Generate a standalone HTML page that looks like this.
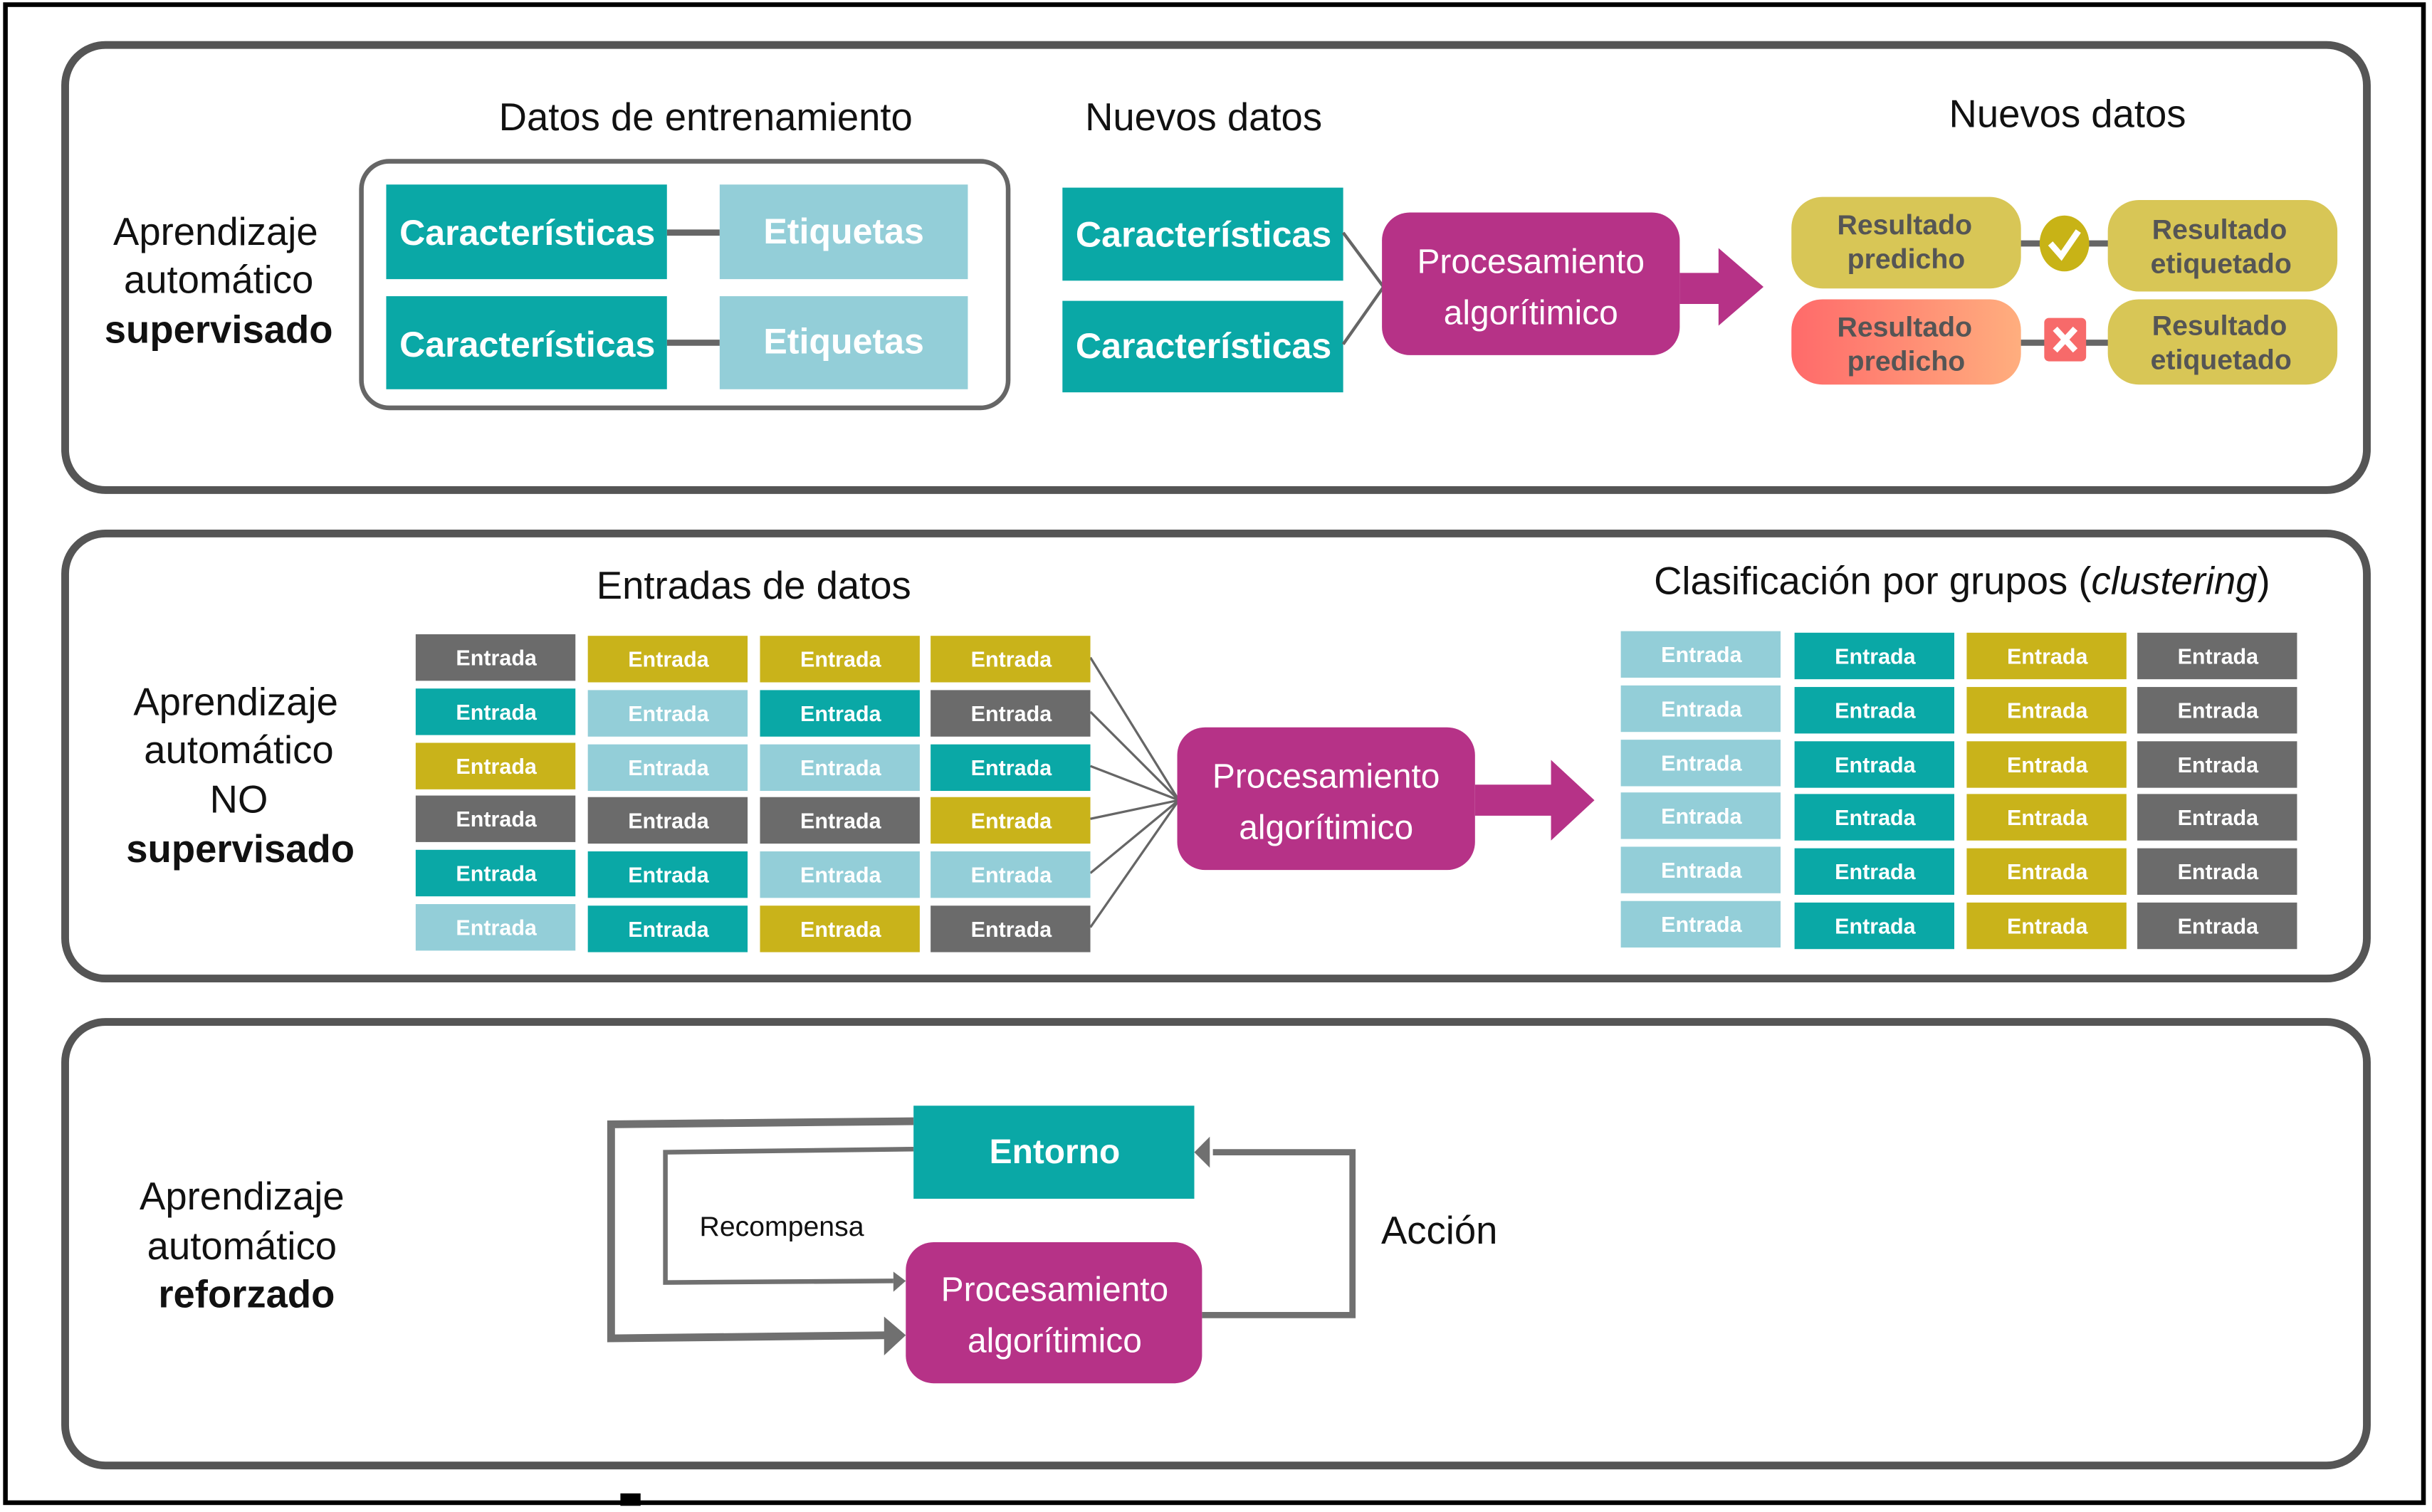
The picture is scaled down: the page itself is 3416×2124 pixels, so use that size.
<!DOCTYPE html>
<html><head><meta charset="utf-8"><style>
html,body{margin:0;padding:0;background:#fff;}
svg{display:block;}
text{font-family:"Liberation Sans",sans-serif;}
</style></head><body>
<svg width="3416" height="2124" viewBox="0 0 1568 975" preserveAspectRatio="none" xmlns="http://www.w3.org/2000/svg">
<defs>
<linearGradient id="rg" x1="0" x2="1" y1="0" y2="0"><stop offset="0" stop-color="#ff6a6a"/><stop offset="1" stop-color="#ffae7e"/></linearGradient>
</defs>
<rect x="3.5" y="3" width="1559" height="966" fill="#fff" stroke="#000" stroke-width="3"/>
<rect x="400" y="963" width="13" height="8" fill="#000"/>

<!-- Panels -->
<rect x="42" y="29" width="1484" height="287" rx="26" fill="none" stroke="#555" stroke-width="5"/>
<rect x="42" y="344" width="1484" height="287" rx="26" fill="none" stroke="#555" stroke-width="5"/>
<rect x="42" y="659" width="1484" height="286" rx="26" fill="none" stroke="#555" stroke-width="5"/>

<!-- Panel 1 -->
<g font-size="25" text-anchor="middle" fill="#111">
<text x="139" y="158">Aprendizaje</text>
<text x="141" y="189">automático</text>
<text x="141" y="221" font-weight="bold">supervisado</text>
<text x="455" y="84">Datos de entrenamiento</text>
<text x="776" y="84">Nuevos datos</text>
<text x="1333" y="82">Nuevos datos</text>
</g>
<rect x="233" y="104" width="417" height="159" rx="18" fill="none" stroke="#666" stroke-width="3"/>
<line x1="430" y1="150" x2="464" y2="150" stroke="#666" stroke-width="4"/>
<line x1="430" y1="221" x2="464" y2="221" stroke="#666" stroke-width="4"/>
<g font-size="23" font-weight="bold" fill="#fff" text-anchor="middle">
<rect x="249" y="119" width="181" height="61" fill="#0aa8a6"/><text x="340" y="158">Características</text>
<rect x="249" y="191" width="181" height="60" fill="#0aa8a6"/><text x="340" y="230">Características</text>
<rect x="464" y="119" width="160" height="61" fill="#93ced8"/><text x="544" y="157">Etiquetas</text>
<rect x="464" y="191" width="160" height="60" fill="#93ced8"/><text x="544" y="228">Etiquetas</text>
<rect x="685" y="121" width="181" height="60" fill="#0aa8a6"/><text x="776" y="159">Características</text>
<rect x="685" y="194" width="181" height="59" fill="#0aa8a6"/><text x="776" y="231">Características</text>
</g>
<polyline points="866,150 892,185 866,222" fill="none" stroke="#666" stroke-width="2"/>
<rect x="891" y="137" width="192" height="92" rx="18" fill="#b63287"/>
<g font-size="22" fill="#fff" text-anchor="middle"><text x="987" y="176">Procesamiento</text><text x="987" y="209">algorítimico</text></g>
<polygon points="1083,176 1108,176 1108,160 1137,185 1108,210 1108,196 1083,196" fill="#b63287"/>
<line x1="1300" y1="157" x2="1362" y2="157" stroke="#666" stroke-width="4"/>
<line x1="1300" y1="221" x2="1362" y2="221" stroke="#666" stroke-width="4"/>
<rect x="1155" y="127" width="148" height="59" rx="20" fill="#d8c656"/>
<rect x="1359" y="129" width="148" height="59" rx="20" fill="#d8c656"/>
<rect x="1155" y="193" width="148" height="55" rx="20" fill="url(#rg)"/>
<rect x="1359" y="193" width="148" height="55" rx="20" fill="#d8c656"/>
<ellipse cx="1331" cy="157" rx="16" ry="18" fill="#c8b316"/>
<polyline points="1322,157 1329,165 1340,149" fill="none" stroke="#fff" stroke-width="4"/>
<rect x="1318" y="205" width="27" height="28" rx="3" fill="#f76a6a"/>
<g stroke="#fff" stroke-width="4"><line x1="1325" y1="212" x2="1338" y2="226"/><line x1="1338" y1="212" x2="1325" y2="226"/></g>
<g font-size="18" font-weight="bold" fill="#555" text-anchor="middle">
<text x="1228" y="151">Resultado</text><text x="1229" y="173">predicho</text>
<text x="1431" y="154">Resultado</text><text x="1432" y="176">etiquetado</text>
<text x="1228" y="217">Resultado</text><text x="1229" y="239">predicho</text>
<text x="1431" y="216">Resultado</text><text x="1432" y="238">etiquetado</text>
</g>

<!-- Panel 2 -->
<g font-size="25" text-anchor="middle" fill="#111">
<text x="152" y="461">Aprendizaje</text>
<text x="154" y="492">automático</text>
<text x="154" y="524">NO</text>
<text x="155" y="556" font-weight="bold">supervisado</text>
<text x="486" y="386">Entradas de datos</text>
<text x="1265" y="383">Clasificación por grupos (<tspan font-style="italic">clustering</tspan>)</text>
</g>
<g stroke="#666" stroke-width="1.5">
<line x1="703" y1="424" x2="760" y2="516"/><line x1="703" y1="459" x2="760" y2="516"/>
<line x1="703" y1="494" x2="760" y2="516"/><line x1="703" y1="528" x2="760" y2="516"/>
<line x1="703" y1="563" x2="760" y2="516"/><line x1="703" y1="598" x2="760" y2="516"/>
</g>
<g font-size="14" font-weight="bold" fill="#fff" text-anchor="middle">
<!-- left grid: G=#6b6b6b Y=#c9b31a T=#0aa8a6 L=#93ced8 -->
<rect x="268" y="409" width="103" height="30" fill="#6b6b6b"/><text x="320" y="429">Entrada</text>
<rect x="379" y="410" width="103" height="30" fill="#c9b31a"/><text x="431" y="430">Entrada</text>
<rect x="490" y="410" width="103" height="30" fill="#c9b31a"/><text x="542" y="430">Entrada</text>
<rect x="600" y="410" width="103" height="30" fill="#c9b31a"/><text x="652" y="430">Entrada</text>

<rect x="268" y="444" width="103" height="30" fill="#0aa8a6"/><text x="320" y="464">Entrada</text>
<rect x="379" y="445" width="103" height="30" fill="#93ced8"/><text x="431" y="465">Entrada</text>
<rect x="490" y="445" width="103" height="30" fill="#0aa8a6"/><text x="542" y="465">Entrada</text>
<rect x="600" y="445" width="103" height="30" fill="#6b6b6b"/><text x="652" y="465">Entrada</text>

<rect x="268" y="479" width="103" height="30" fill="#c9b31a"/><text x="320" y="499">Entrada</text>
<rect x="379" y="480" width="103" height="30" fill="#93ced8"/><text x="431" y="500">Entrada</text>
<rect x="490" y="480" width="103" height="30" fill="#93ced8"/><text x="542" y="500">Entrada</text>
<rect x="600" y="480" width="103" height="30" fill="#0aa8a6"/><text x="652" y="500">Entrada</text>

<rect x="268" y="513" width="103" height="30" fill="#6b6b6b"/><text x="320" y="533">Entrada</text>
<rect x="379" y="514" width="103" height="30" fill="#6b6b6b"/><text x="431" y="534">Entrada</text>
<rect x="490" y="514" width="103" height="30" fill="#6b6b6b"/><text x="542" y="534">Entrada</text>
<rect x="600" y="514" width="103" height="30" fill="#c9b31a"/><text x="652" y="534">Entrada</text>

<rect x="268" y="548" width="103" height="30" fill="#0aa8a6"/><text x="320" y="568">Entrada</text>
<rect x="379" y="549" width="103" height="30" fill="#0aa8a6"/><text x="431" y="569">Entrada</text>
<rect x="490" y="549" width="103" height="30" fill="#93ced8"/><text x="542" y="569">Entrada</text>
<rect x="600" y="549" width="103" height="30" fill="#93ced8"/><text x="652" y="569">Entrada</text>

<rect x="268" y="583" width="103" height="30" fill="#93ced8"/><text x="320" y="603">Entrada</text>
<rect x="379" y="584" width="103" height="30" fill="#0aa8a6"/><text x="431" y="604">Entrada</text>
<rect x="490" y="584" width="103" height="30" fill="#c9b31a"/><text x="542" y="604">Entrada</text>
<rect x="600" y="584" width="103" height="30" fill="#6b6b6b"/><text x="652" y="604">Entrada</text>
</g>
<rect x="759" y="469" width="192" height="92" rx="18" fill="#b63287"/>
<g font-size="22" fill="#fff" text-anchor="middle"><text x="855" y="508">Procesamiento</text><text x="855" y="541">algorítimico</text></g>
<polygon points="951,506 1000,506 1000,490 1028,516 1000,542 1000,526 951,526" fill="#b63287"/>

<g font-size="14" font-weight="bold" fill="#fff" text-anchor="middle">
<rect x="1045" y="407" width="103" height="30" fill="#93ced8"/><text x="1097" y="427">Entrada</text>
<rect x="1045" y="442" width="103" height="30" fill="#93ced8"/><text x="1097" y="462">Entrada</text>
<rect x="1045" y="477" width="103" height="30" fill="#93ced8"/><text x="1097" y="497">Entrada</text>
<rect x="1045" y="511" width="103" height="30" fill="#93ced8"/><text x="1097" y="531">Entrada</text>
<rect x="1045" y="546" width="103" height="30" fill="#93ced8"/><text x="1097" y="566">Entrada</text>
<rect x="1045" y="581" width="103" height="30" fill="#93ced8"/><text x="1097" y="601">Entrada</text>

<rect x="1157" y="408" width="103" height="30" fill="#0aa8a6"/><text x="1209" y="428">Entrada</text>
<rect x="1157" y="443" width="103" height="30" fill="#0aa8a6"/><text x="1209" y="463">Entrada</text>
<rect x="1157" y="478" width="103" height="30" fill="#0aa8a6"/><text x="1209" y="498">Entrada</text>
<rect x="1157" y="512" width="103" height="30" fill="#0aa8a6"/><text x="1209" y="532">Entrada</text>
<rect x="1157" y="547" width="103" height="30" fill="#0aa8a6"/><text x="1209" y="567">Entrada</text>
<rect x="1157" y="582" width="103" height="30" fill="#0aa8a6"/><text x="1209" y="602">Entrada</text>

<rect x="1268" y="408" width="103" height="30" fill="#c9b31a"/><text x="1320" y="428">Entrada</text>
<rect x="1268" y="443" width="103" height="30" fill="#c9b31a"/><text x="1320" y="463">Entrada</text>
<rect x="1268" y="478" width="103" height="30" fill="#c9b31a"/><text x="1320" y="498">Entrada</text>
<rect x="1268" y="512" width="103" height="30" fill="#c9b31a"/><text x="1320" y="532">Entrada</text>
<rect x="1268" y="547" width="103" height="30" fill="#c9b31a"/><text x="1320" y="567">Entrada</text>
<rect x="1268" y="582" width="103" height="30" fill="#c9b31a"/><text x="1320" y="602">Entrada</text>

<rect x="1378" y="408" width="103" height="30" fill="#6b6b6b"/><text x="1430" y="428">Entrada</text>
<rect x="1378" y="443" width="103" height="30" fill="#6b6b6b"/><text x="1430" y="463">Entrada</text>
<rect x="1378" y="478" width="103" height="30" fill="#6b6b6b"/><text x="1430" y="498">Entrada</text>
<rect x="1378" y="512" width="103" height="30" fill="#6b6b6b"/><text x="1430" y="532">Entrada</text>
<rect x="1378" y="547" width="103" height="30" fill="#6b6b6b"/><text x="1430" y="567">Entrada</text>
<rect x="1378" y="582" width="103" height="30" fill="#6b6b6b"/><text x="1430" y="602">Entrada</text>
</g>

<!-- Panel 3 -->
<g font-size="25" text-anchor="middle" fill="#111">
<text x="156" y="780">Aprendizaje</text>
<text x="156" y="812">automático</text>
<text x="159" y="843" font-weight="bold">reforzado</text>
<text x="928" y="802">Acción</text>
</g>
<text x="451" y="797" font-size="18" fill="#111">Recompensa</text>
<g fill="none" stroke="#707070">
<polyline points="589,723 394,725 394,863 574,861" stroke-width="5"/>
<polyline points="589,741 429,743 429,827 576,826" stroke-width="3"/>
<polyline points="775,848 872,848 872,743 782,743" stroke-width="4"/>
</g>
<polygon points="584,861 570,849 570,874" fill="#707070"/>
<polygon points="584,826 576,820 576,833" fill="#707070"/>
<polygon points="770,743 780,733 780,753" fill="#707070"/>
<rect x="589" y="713" width="181" height="60" fill="#0aa8a6"/>
<text x="680" y="750" font-size="22" font-weight="bold" fill="#fff" text-anchor="middle">Entorno</text>
<rect x="584" y="801" width="191" height="91" rx="18" fill="#b63287"/>
<g font-size="22" fill="#fff" text-anchor="middle"><text x="680" y="839">Procesamiento</text><text x="680" y="872">algorítimico</text></g>
</svg>
</body></html>
